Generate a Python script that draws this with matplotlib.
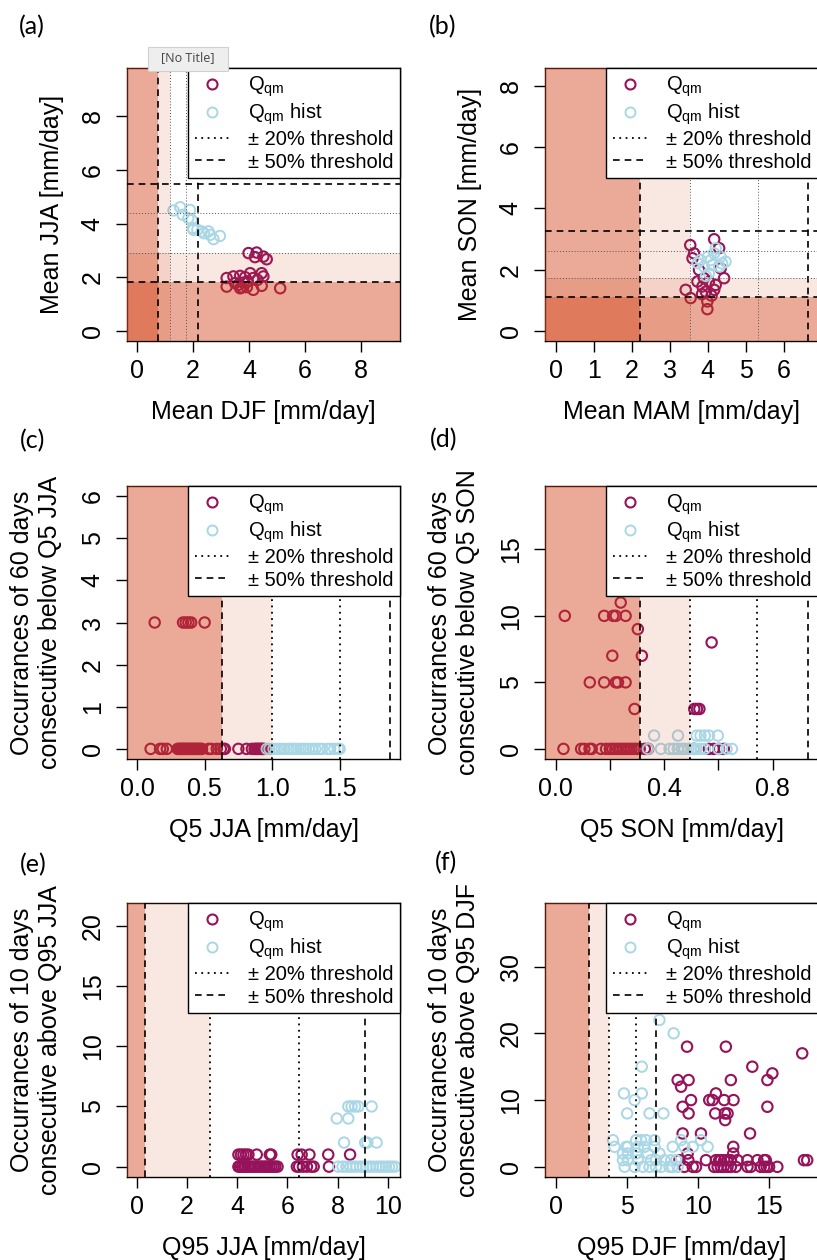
import matplotlib
matplotlib.use('Agg')
import matplotlib.pyplot as plt
from matplotlib.lines import Line2D
from matplotlib.patches import Rectangle

plt.rcParams['font.family'] = ['Liberation Sans', 'DejaVu Sans']
plt.rcParams['mathtext.fontset'] = 'custom'
plt.rcParams['mathtext.rm'] = 'Liberation Sans'
plt.rcParams['mathtext.it'] = 'Liberation Sans:italic'

QM_COL = '#96125A'
HIST_COL = '#A9D7E5'
SHADE = '#D13C10'

# (a) mean DJF vs mean JJA
a_qm_x = [3.98, 4.27, 4.21, 4.51, 4.63, 3.20, 3.44, 3.68, 3.86, 4.04, 4.15, 4.45, 4.51,
          3.20, 3.50, 3.68, 3.92, 4.15, 4.45, 5.11, 3.62, 3.80, 3.95, 4.30, 3.75]
a_qm_y = [2.90, 2.92, 2.75, 2.77, 2.67, 1.97, 2.03, 2.05, 2.00, 2.15, 1.97, 2.15, 2.03,
          1.65, 1.78, 1.59, 1.63, 1.53, 1.68, 1.59, 1.72, 1.80, 1.85, 1.90, 1.62]
a_hist_x = [1.30, 1.54, 1.63, 1.89, 1.83, 1.95, 1.99, 2.15, 2.31, 2.55, 2.61, 2.73, 2.96, 2.39, 2.01]
a_hist_y = [4.49, 4.61, 4.33, 4.51, 4.20, 4.14, 3.83, 3.77, 3.71, 3.71, 3.58, 3.42, 3.54, 3.64, 3.77]

# (b) mean MAM vs mean SON
b_qm_x = [3.54, 3.64, 3.60, 3.77, 3.73, 3.86, 3.95, 3.42, 3.55, 3.99, 3.99, 4.17, 4.34,
          4.43, 4.21, 4.17, 4.03, 3.90, 4.30, 3.85, 4.10]
b_qm_y = [2.80, 2.53, 2.37, 1.99, 1.61, 1.45, 1.28, 1.34, 1.07, 0.96, 0.71, 2.99, 2.04,
          1.72, 1.50, 1.34, 1.61, 1.72, 2.70, 1.20, 1.15]
b_hist_x = [3.81, 4.00, 4.17, 4.34, 4.47, 3.90, 4.12, 4.30, 4.03, 4.21, 3.73, 4.38, 4.08, 3.95]
b_hist_y = [2.31, 2.42, 2.53, 2.42, 2.26, 2.10, 2.15, 2.10, 1.88, 2.70, 2.21, 2.20, 2.31, 1.79]

# (c) Q5 JJA vs occurrences
c_qm_x = [0.13, 0.34, 0.36, 0.38, 0.40, 0.50,
          0.10, 0.17, 0.19, 0.22, 0.30, 0.31, 0.32, 0.33, 0.34, 0.35, 0.36, 0.37, 0.38, 0.39,
          0.40, 0.41, 0.42, 0.43, 0.44, 0.45, 0.46, 0.47, 0.48, 0.53, 0.55, 0.59, 0.62, 0.64,
          0.65, 0.75, 0.81, 0.85, 0.87, 0.88, 0.89, 0.90, 0.91, 0.92, 0.93, 0.94]
c_qm_y = [3, 3, 3, 3, 3, 3,
          0, 0, 0, 0, 0, 0, 0, 0, 0, 0, 0, 0, 0, 0,
          0, 0, 0, 0, 0, 0, 0, 0, 0, 0, 0, 0, 0, 0,
          0, 0, 0, 0, 0, 0, 0, 0, 0, 0, 0, 0]
c_hist_x = [0.96, 0.98, 1.01, 1.03, 1.05, 1.07, 1.09, 1.12, 1.14, 1.16, 1.18, 1.21, 1.23,
            1.25, 1.27, 1.30, 1.32, 1.35, 1.37, 1.41, 1.43, 1.46, 1.49, 1.50]
c_hist_y = [0, 0, 0, 0, 0, 0, 0, 0, 0, 0, 0, 0, 0,
            0, 0, 0, 0, 0, 0, 0, 0, 0, 0, 0]

# (d) Q5 SON vs occurrences
d_qm_x = [0.240, 0.034, 0.179, 0.212, 0.222, 0.258, 0.303, 0.575, 0.209, 0.318, 0.126, 0.179,
          0.222, 0.230, 0.258, 0.291, 0.511, 0.521, 0.530,
          0.029, 0.094, 0.106, 0.125, 0.133, 0.167, 0.186, 0.20, 0.21, 0.22, 0.23, 0.24, 0.25,
          0.26, 0.27, 0.28, 0.29, 0.30, 0.31, 0.329, 0.341, 0.51, 0.565, 0.583, 0.602, 0.62]
d_qm_y = [11, 10, 10, 10, 10, 10, 9, 8, 7, 7, 5, 5,
          5, 5, 5, 3, 3, 3, 3,
          0, 0, 0, 0, 0, 0, 0, 0, 0, 0, 0, 0, 0,
          0, 0, 0, 0, 0, 0, 0, 0, 0, 0, 0, 0, 0]
d_hist_x = [0.363, 0.451, 0.520, 0.534, 0.550, 0.565, 0.598,
            0.34, 0.388, 0.42, 0.435, 0.45, 0.465, 0.475, 0.49, 0.50, 0.51, 0.52, 0.535,
            0.55, 0.60, 0.63, 0.65]
d_hist_y = [1, 1, 1, 1, 1, 1, 1,
            0, 0, 0, 0, 0, 0, 0, 0, 0, 0, 0, 0,
            0, 0, 0, 0]

# (e) Q95 JJA vs occurrences
e_qm_x = [4.05, 4.15, 4.25, 4.35, 4.45, 4.78, 5.30, 5.36, 6.41, 6.57, 6.88, 7.63, 8.50,
          4.05, 4.12, 4.20, 4.28, 4.33, 4.41, 4.50, 4.57, 4.66, 4.72, 4.83, 4.90, 4.97, 5.06,
          5.14, 5.20, 5.29, 5.37, 5.45, 5.52, 5.61, 6.38, 6.47, 6.62, 6.78, 6.95, 7.05, 7.66]
e_qm_y = [1, 1, 1, 1, 1, 1, 1, 1, 1, 1, 1, 1, 1,
          0, 0, 0, 0, 0, 0, 0, 0, 0, 0, 0, 0, 0, 0,
          0, 0, 0, 0, 0, 0, 0, 0, 0, 0, 0, 0, 0, 0]
e_hist_x = [9.36, 8.43, 8.56, 8.70, 8.83, 7.97, 8.43, 8.26, 9.10, 9.19, 9.56,
            8.03, 8.20, 8.35, 8.50, 8.62, 8.75, 8.90, 9.02, 9.15, 9.28, 9.40, 9.55, 9.68,
            9.80, 9.93, 10.05, 10.17, 10.29]
e_hist_y = [5, 5, 5, 5, 5, 4, 4, 2, 2, 2, 2,
            0, 0, 0, 0, 0, 0, 0, 0, 0, 0, 0, 0, 0,
            0, 0, 0, 0, 0]

# (f) Q95 DJF vs occurrences
f_qm_x = [9.25, 11.98, 17.35, 13.84, 15.25, 8.59, 9.36, 12.33, 14.90, 8.83, 11.28, 10.81,
          11.05, 11.86, 12.52, 9.53, 8.94, 14.90, 9.36, 11.23, 11.91, 12.10, 11.93, 8.94,
          10.23, 13.68, 12.50, 9.29, 12.50,
          8.71, 9.34, 10.58, 11.28, 11.51, 11.63, 11.86, 12.10, 12.33, 12.80, 13.50, 14.20,
          14.67, 14.79, 17.47, 17.70,
          9.06, 9.65, 9.88, 11.16, 11.40, 11.63, 11.82, 12.10, 12.33, 12.68, 13.50, 13.73,
          14.43, 14.67, 14.85, 15.02, 15.60]
f_qm_y = [18, 18, 17, 15, 14, 13, 13, 13, 13, 12, 11, 10,
          10, 10, 10, 10, 9, 9, 8, 8, 8, 8, 7, 5,
          5, 5, 3, 2, 2,
          1, 1, 1, 1, 1, 1, 1, 1, 1, 1, 1, 1,
          1, 1, 1, 1,
          0, 0, 0, 0, 0, 0, 0, 0, 0, 0, 0, 0,
          0, 0, 0, 0, 0]
f_hist_x = [7.31, 8.31, 6.07, 4.81, 6.07, 5.56, 5.04, 6.61, 7.59,
            4.04, 5.67, 6.02, 6.37, 6.96, 8.83, 10.23,
            4.15, 4.97, 5.09, 5.79, 6.26, 6.96, 8.24, 9.06, 9.65, 10.70,
            4.74, 5.09, 5.67, 6.49, 7.31,
            4.74, 5.09, 5.79, 6.72, 7.07, 7.66, 8.13, 8.48,
            4.86, 5.56, 6.14, 6.61, 7.07, 7.43, 8.01, 8.24, 8.59]
f_hist_y = [22, 20, 15, 11, 11, 10, 8, 8, 8,
            4, 4, 4, 4, 4, 4, 4,
            3, 3, 3, 3, 3, 3, 3, 3, 3, 3,
            2, 2, 2, 2, 2,
            1, 1, 1, 1, 1, 1, 1, 1,
            0, 0, 0, 0, 0, 0, 0, 0, 0]

# thresholds: (50% low, 20% low, 20% high, 50% high)
a_xthr = [0.73, 1.17, 1.75, 2.19]
a_ythr = [1.83, 2.92, 4.38, 5.47]
b_xthr = [2.22, 3.54, 5.31, 6.64]
b_ythr = [1.09, 1.74, 2.60, 3.26]
c_xthr = [0.625, 1.0, 1.5, 1.875]
d_xthr = [0.31, 0.496, 0.744, 0.93]
e_xthr = [0.33, 2.93, 6.45, 9.1]
f_xthr = [2.34, 3.78, 5.65, 7.05]

W, H = 817, 1260
fig = plt.figure(figsize=(W / 100, H / 100), dpi=100)


def make_ax(left, top, w=273, h=273):
    return fig.add_axes([left / W, 1 - (top + h) / H, w / W, h / H])


def panel(ax, qx, qy, hx, hy, xlim, ylim, xt, xtl, yt, xthr, ythr,
          xlabel, ylabel, ylab_off, thin_dots):
    ax.scatter(qx, qy, s=56, facecolors='none', edgecolors=QM_COL, linewidths=1.5, zorder=2)
    ax.scatter(hx, hy, s=56, facecolors='none', edgecolors=HIST_COL, linewidths=1.4, zorder=2)
    ax.set_xlim(*xlim)
    ax.set_ylim(*ylim)
    # translucent shading drawn over the points
    ax.axvspan(xlim[0], xthr[0], color=SHADE, alpha=0.435, lw=0, zorder=3)
    ax.axvspan(xthr[0], xthr[1], color=SHADE, alpha=0.123, lw=0, zorder=3)
    if ythr:
        ax.axhspan(ylim[0], ythr[0], color=SHADE, alpha=0.435, lw=0, zorder=3)
        ax.axhspan(ythr[0], ythr[1], color=SHADE, alpha=0.123, lw=0, zorder=3)
    if thin_dots:
        dkw = dict(color='#555555', lw=0.7, ls=(0, (1, 2)))
    else:
        dkw = dict(color='black', lw=1.3, ls=(0, (1, 2.5)))
    skw = dict(color='black', lw=1.2, ls=(0, (4, 3)))
    ax.axvline(xthr[1], zorder=4, **dkw)
    ax.axvline(xthr[2], zorder=4, **dkw)
    ax.axvline(xthr[0], zorder=4, **skw)
    ax.axvline(xthr[3], zorder=4, **skw)
    if ythr:
        ax.axhline(ythr[1], zorder=4, **dkw)
        ax.axhline(ythr[2], zorder=4, **dkw)
        ax.axhline(ythr[0], zorder=4, **skw)
        ax.axhline(ythr[3], zorder=4, **skw)

    ax.set_xticks(xt)
    ax.set_xticklabels(xtl)
    ax.set_yticks(yt)
    ax.tick_params(axis='both', direction='out', length=8, width=1, labelsize=18)
    ax.tick_params(axis='x', pad=5)
    ax.tick_params(axis='y', pad=8, labelrotation=90)
    for lab in ax.get_yticklabels():
        lab.set_va('center')
    for sp in ax.spines.values():
        sp.set_linewidth(1.0)
        sp.set_color('black')
    ax.set_xlabel(xlabel, fontsize=18, va='center')
    ax.xaxis.set_label_coords(0.5, -71 / 273)
    ax.set_ylabel(ylabel, fontsize=18, va='center', linespacing=1.25)
    ax.yaxis.set_label_coords(-ylab_off / 273, 0.5)

    handles = [
        Line2D([], [], ls='none', marker='o', ms=7.2, mfc='none', mec=QM_COL, mew=1.5),
        Line2D([], [], ls='none', marker='o', ms=7.2, mfc='none', mec=HIST_COL, mew=1.4),
        Line2D([], [], color='black', lw=1.3, ls=(0, (1, 2.5))),
        Line2D([], [], color='black', lw=1.2, ls=(0, (4, 3))),
    ]
    labels = ['Q$_{\\rm qm}$', 'Q$_{\\rm qm}$ hist', '\u00b1 20% threshold', '\u00b1 50% threshold']
    leg = ax.legend(handles, labels, loc='upper right', borderaxespad=0, fontsize=14.5,
                    frameon=True, fancybox=False, framealpha=1, edgecolor='black',
                    handlelength=1.75, handletextpad=0.9, labelspacing=0.15,
                    borderpad=0.32, numpoints=1)
    leg.get_frame().set_linewidth(1.0)
    leg.set_zorder(6)


ax_a = make_ax(127, 68)
panel(ax_a, a_qm_x, a_qm_y, a_hist_x, a_hist_y, (-0.36, 9.39), (-0.377, 9.8),
      [0, 2, 4, 6, 8], ['0', '2', '4', '6', '8'], [0, 2, 4, 6, 8],
      a_xthr, a_ythr, 'Mean DJF [mm/day]', 'Mean JJA [mm/day]', 75, True)

ax_b = make_ax(545, 68)
panel(ax_b, b_qm_x, b_qm_y, b_hist_x, b_hist_y, (-0.28, 6.9), (-0.33, 8.58),
      [0, 1, 2, 3, 4, 5, 6], ['0', '1', '2', '3', '4', '5', '6'], [0, 2, 4, 6, 8],
      b_xthr, b_ythr, 'Mean MAM [mm/day]', 'Mean SON [mm/day]', 75, True)

ax_c = make_ax(127, 486)
panel(ax_c, c_qm_x, c_qm_y, c_hist_x, c_hist_y, (-0.075, 1.947), (-0.24, 6.24),
      [0, 0.5, 1.0, 1.5], ['0.0', '0.5', '1.0', '1.5'], [0, 1, 2, 3, 4, 5, 6],
      c_xthr, None, 'Q5 JJA [mm/day]',
      'Occurrances of 60 days\nconsecutive below Q5 JJA', 91, False)

ax_d = make_ax(545, 486)
panel(ax_d, d_qm_x, d_qm_y, d_hist_x, d_hist_y, (-0.039, 0.967), (-0.76, 19.76),
      [0, 0.2, 0.4, 0.6, 0.8], ['0.0', '', '0.4', '', '0.8'], [0, 5, 10, 15],
      d_xthr, None, 'Q5 SON [mm/day]',
      'Occurrances of 60 days\nconsecutive below Q5 SON', 91, False)

ax_e = make_ax(127, 903, h=274)
panel(ax_e, e_qm_x, e_qm_y, e_hist_x, e_hist_y, (-0.39, 10.49), (-0.86, 21.9),
      [0, 2, 4, 6, 8, 10], ['0', '2', '4', '6', '8', '10'], [0, 5, 10, 15, 20],
      e_xthr, None, 'Q95 JJA [mm/day]',
      'Occurrances of 10 days\nconsecutive above Q95 JJA', 91, False)

ax_f = make_ax(545, 903, h=274)
panel(ax_f, f_qm_x, f_qm_y, f_hist_x, f_hist_y, (-0.74, 18.46), (-1.52, 39.52),
      [0, 5, 10, 15], ['0', '5', '10', '15'], [0, 10, 20, 30],
      f_xthr, None, 'Q95 DJF [mm/day]',
      'Occurrances of 10 days\nconsecutive above Q95 DJF', 91, False)

# panel letters
for lab, px, py in [('(a)', 19, 27), ('(b)', 429, 27), ('(c)', 20, 441),
                    ('(d)', 430, 440), ('(e)', 20, 865), ('(f)', 435, 863)]:
    fig.text(px / W, 1 - py / H, lab, fontsize=18, ha='left', va='center',
             family=['Lato', 'DejaVu Sans'])

# tooltip left in the screenshot
fig.patches.append(Rectangle((148 / W, 1 - 71 / H), 80 / W, 24 / H, transform=fig.transFigure,
                             facecolor='#EEEEEE', edgecolor='#D0D0D0', lw=0.8, zorder=10))
fig.text(188 / W, 1 - 58 / H, '[No Title]', fontsize=9, ha='center', va='center',
         color='#444444', family=['Open Sans', 'DejaVu Sans'], zorder=11)

fig.savefig('out.png', dpi=100)
